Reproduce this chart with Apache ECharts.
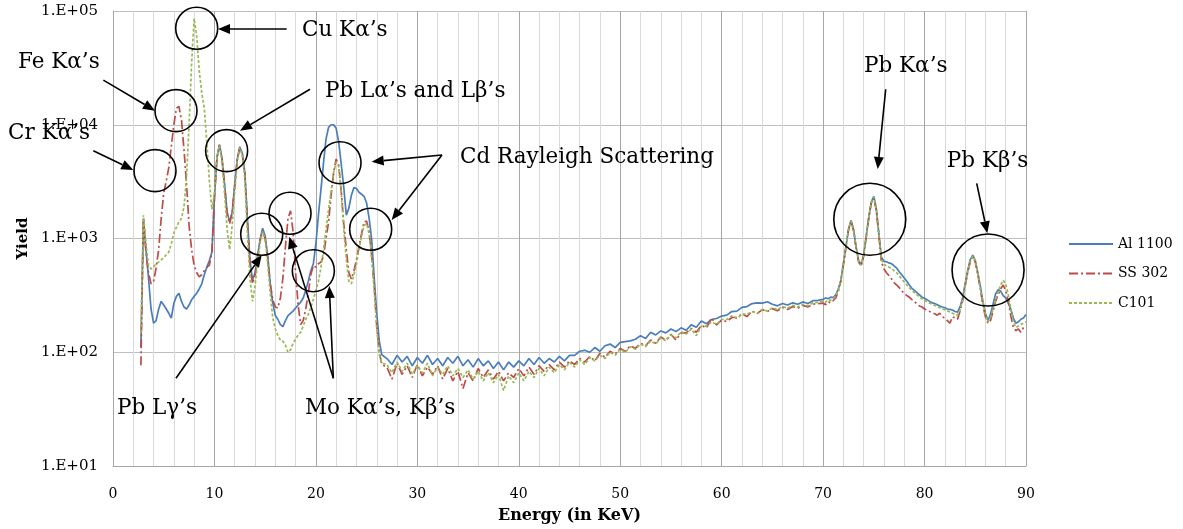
<!DOCTYPE html>
<html>
<head>
<meta charset="utf-8">
<script src="https://cdn.jsdelivr.net/npm/echarts@6/dist/echarts.min.js"></script>
<style>
html,body{margin:0;padding:0;background:#fff;}
#chart{width:1183px;height:529px;}
</style>
</head>
<body>
<div id="chart"></div>
<script>
// ---------------- DATA ----------------
const energy = [
  2.75,3,3.25,3.5,3.75,
  4,4.25,4.5,4.75, 5,5.25,5.5,5.75, 6,6.25,6.5,6.75, 7,7.25,7.5,7.75,
  8,8.25,8.5,8.75, 9,9.25,9.5,9.75, 10,10.25,10.5,10.75, 11,11.25,11.5,11.75,
  12,12.25,12.5,12.75, 13,13.25,13.5,13.75, 14,14.25,14.5,14.75, 15,15.25,15.5,15.75,
  16,16.25,16.5,16.75, 17,17.25,17.5,17.75, 18,18.25,18.5,18.75, 19,19.25,19.5,19.75,
  20,20.25,20.5,20.75, 21,21.25,21.5,21.75, 22,22.25,22.5,22.75, 23,23.25,23.5,23.75,
  24,24.25,24.5,24.75, 25,25.25,25.5,25.75, 26,26.25,26.5,
  27,27.5,28,28.5,29,29.5,30,30.5,31,31.5,
  32,32.5,33,33.5,34,34.5,35,35.5,36,36.5,
  37,37.5,38,38.5,39,39.5,40,40.5,41,41.5,
  42,42.5,43,43.5,44,44.5,45,45.5,46,46.5,
  47,47.5,48,48.5,49,49.5,50,50.5,51,51.5,
  52,52.5,53,53.5,54,54.5,55,55.5,56,56.5,
  57,57.5,58,58.5,59,59.5,60,60.5,61,61.5,
  62,62.5,63,63.5,64,64.5,65,65.5,66,66.5,
  67,67.5,68,68.5,69,69.5,
  70,70.25,70.5,70.75, 71,71.25,71.5,71.75, 72,72.25,72.5,72.75, 73,73.25,73.5,73.75,
  74,74.25,74.5,74.75, 75,75.25,75.5,75.75, 76,76.25,76.5,76.75, 77,77.25,77.5,77.75,
  78,78.25,78.5,78.75, 79,79.25,79.5,79.75, 80,80.25,80.5,80.75, 81,81.25,81.5,81.75,
  82,82.25,82.5,82.75, 83,83.25,83.5,83.75, 84,84.25,84.5,84.75, 85,85.25,85.5,85.75,
  86,86.25,86.5,86.75, 87,87.25,87.5,87.75, 88,88.25,88.5,88.75, 89,89.25,89.5,89.75,
  90
];

const al1100 = [
  110,1500,800,450,240,
  180,190,240,280, 260,240,220,200, 270,310,330,280, 250,240,260,290,
  310,330,360,400, 480,560,640,760, 2300,5200,6700,5000, 3000,1700,1400,1700,
  3000,5000,6400,5600, 3800,1500,650,430, 500,700,980,1230, 1050,700,400,270,
  210,195,175,168, 190,210,220,230, 245,260,275,300, 350,420,520,600,
  900,1600,2700,4600, 7500,9500,10000,10000, 9300,7000,4500,2800, 1600,1850,2400,2800,
  2750,2550,2450,2350, 2050,1500,980,450, 220,125,95,
  88,78,94,82,92,76,90,80,94,78,
  88,76,90,80,92,76,86,74,88,76,
  84,72,82,70,82,74,84,76,88,78,
  90,80,88,82,92,84,94,94,102,104,
  100,110,102,114,118,110,122,124,126,130,
  140,132,150,142,154,148,160,152,164,156,
  174,166,188,178,194,198,208,212,228,230,
  248,252,268,272,270,278,264,256,268,260,
  272,264,277,268,284,286,
  292,300,296,305, 302,320,360,430, 600,850,1200,1450, 1200,850,640,590,
  720,1050,1550,2100, 2350,1800,1100,680, 630,625,610,600, 575,550,510,480,
  450,420,390,365, 350,335,320,305, 298,290,280,272, 268,262,255,250,
  246,240,238,235, 228,225,250,300, 400,520,650,715, 640,500,380,280,
  220,190,215,265, 325,355,345,315, 300,270,240,200, 180,185,195,200,
  215
];

const ss302 = [
  77,1500,750,500,400,
  420,550,800,1500, 2500,3200,4200,6500, 10000,14000,14500,11000, 6000,3000,1300,800,
  580,500,460,480, 520,560,580,760, 2300,5100,6600,5000, 2900,1650,1350,1700,
  2900,4900,6300,5500, 3700,1400,600,400, 470,680,950,1180, 1000,680,400,290,
  250,245,300,450, 850,1500,1750,1150, 500,260,175,190, 240,330,480,580,
  560,600,620,700, 1000,1400,2400,3800, 5000,4400,2600,1350, 800,500,440,520,
  650,850,1100,1400, 1420,1150,700,380, 170,100,78,
  74,58,80,64,76,60,78,62,74,64,
  76,58,72,56,68,48,66,56,72,60,
  70,58,68,56,66,60,72,62,74,64,
  76,68,78,70,82,74,84,78,88,82,
  92,84,98,90,102,96,108,102,114,108,
  120,114,128,120,136,128,144,128,148,148,
  162,150,172,163,200,174,192,186,202,203,
  217,206,230,218,237,228,242,232,248,238,
  252,244,258,250,264,268,
  270,262,278,272, 285,300,345,420, 590,830,1180,1420, 1180,820,620,570,
  700,1020,1500,2050, 2300,1750,1050,620, 540,500,470,440, 410,390,370,345,
  330,315,305,290, 280,265,255,250, 240,235,228,222, 218,212,220,205,
  200,190,180,205, 200,195,230,280, 380,500,620,690, 620,480,360,260,
  205,180,190,230, 280,320,360,390, 350,280,210,165, 155,160,150,165,
  160
];

const c101 = [
  150,1600,900,580,540,
  560,600,620,650, 680,720,760,900, 1120,1250,1400,1500, 1900,3500,10000,35000,
  86000,60000,30000,19000, 14000,7000,3200,1800, 2500,5200,6600,4800, 2500,1200,800,1300,
  2600,4800,6300,5400, 3300,1100,450,280, 380,620,920,1150, 980,600,330,200,
  160,140,128,125, 115,100,105,120, 130,142,150,170, 195,215,250,290,
  350,420,560,800, 1200,1800,2600,3800, 4700,4300,2500,1200, 650,420,400,480,
  600,800,1050,1300, 1350,1100,680,350, 160,95,80,
  78,66,82,68,80,64,76,66,80,62,
  74,64,76,62,72,60,70,58,68,56,
  66,54,64,46,62,54,66,56,68,60,
  72,62,74,66,78,70,82,74,86,78,
  90,84,94,88,100,94,106,100,112,106,
  118,112,126,118,134,126,142,134,152,144,
  160,140,170,170,184,176,194,194,208,198,
  216,216,228,220,238,230,246,238,252,244,
  258,250,264,256,272,274,
  282,276,290,286, 298,312,355,430, 600,840,1200,1430, 1200,840,630,580,
  710,1040,1520,2080, 2320,1780,1080,650, 590,575,560,545, 520,500,470,440,
  415,390,370,350, 335,320,305,295, 285,278,270,264, 258,252,246,240,
  236,232,226,220, 215,212,235,290, 390,510,630,700, 640,500,370,275,
  215,185,200,240, 290,340,390,430, 400,320,240,185, 165,170,175,180,
  185
];

const seriesNames = ['Al 1100', 'SS 302', 'C101'];
const yTicks = [10, 100, 1000, 10000, 100000];

// ---------------- ANNOTATIONS (in data coordinates) ----------------
const annLabels = [
  ['Cu K\u03b1\u2019s', 18.63, 68100],
  ['Fe K\u03b1\u2019s', -9.37, 35600],
  ['Pb L\u03b1\u2019s and L\u03b2\u2019s', 20.9, 19800],
  ['Cr K\u03b1\u2019s', -10.35, 8450],
  ['Cd Rayleigh Scattering', 34.2, 5110],
  ['Pb K\u03b1\u2019s', 74.03, 32800],
  ['Pb K\u03b2\u2019s', 82.2, 4800],
  ['Pb L\u03b3\u2019s', 0.39, 32.4],
  ['Mo K\u03b1\u2019s, K\u03b2\u2019s', 18.93, 32.4]
];
const annCircles = [
  [8.25, 70500, 'S'], [6.21, 13300, 'S'], [4.14, 3950, 'S'], [11.2, 5920, 'S'],
  [14.66, 1090, 'S'], [17.45, 1665, 'S'], [19.75, 521, 'S'], [22.38, 4640, 'S'],
  [25.4, 1205, 'S'], [74.6, 1476, 'L'], [86.26, 528, 'L']
];
const annArrows = [
  [17.12, 69500, 10.35, 69500],
  [-0.95, 24700, 4.14, 13300],
  [-1.94, 5900, 2.0, 4000],
  [19.42, 20500, 12.52, 8870],
  [32.43, 5420, 25.5, 4730],
  [32.43, 5420, 27.47, 1455],
  [6.21, 59, 14.66, 716],
  [21.72, 59, 17.38, 1038],
  [21.72, 59, 21.32, 382],
  [76.17, 20500, 75.38, 4080],
  [85.14, 3055, 86.19, 1112]
];

// ---------------- CHART ----------------
const FONT = 'DejaVu Serif';
const chart = echarts.init(document.getElementById('chart'), null, {renderer: 'canvas'});
const colors = ['#4a7ebb', '#be4b48', '#98b954'];
const dashes = ['solid', [9, 3, 2, 3], [3, 2]];
const ys = [al1100, ss302, c101];

chart.setOption({
  animation: false,
  backgroundColor: '#fff',
  grid: {left: 113, right: 157, top: 11, bottom: 63, containLabel: false},
  legend: {
    orient: 'vertical', left: 1063, top: 232,
    itemWidth: 44, itemHeight: 14, itemGap: 15.5,
    itemStyle: {color: 'rgba(0,0,0,0)', borderWidth: 0},
    textStyle: {fontFamily: FONT, fontSize: 14, color: '#000'},
    data: seriesNames
  },
  xAxis: {
    type: 'value', min: 0, max: 90, interval: 10,
    name: 'Energy (in KeV)', nameLocation: 'middle', nameGap: 42,
    nameTextStyle: {fontFamily: FONT, fontSize: 16, fontWeight: 'bold', color: '#000'},
    axisLine: {show: true, lineStyle: {color: '#a6a6a6', width: 1}},
    axisTick: {show: false},
    axisLabel: {fontFamily: FONT, fontSize: 14, color: '#000', margin: 21},
    splitLine: {show: true, lineStyle: {color: '#a6a6a6', width: 1}},
    minorTick: {show: false, splitNumber: 5},
    minorSplitLine: {show: true, lineStyle: {color: '#d9d9d9', width: 1}}
  },
  yAxis: {
    type: 'log', logBase: 10, min: yTicks[0], max: yTicks[yTicks.length - 1],
    name: 'Yield', nameLocation: 'middle', nameGap: 78,
    nameTextStyle: {fontFamily: FONT, fontSize: 15, fontWeight: 'bold', color: '#000'},
    axisLine: {show: true, lineStyle: {color: '#a6a6a6', width: 1}},
    axisTick: {show: false},
    axisLabel: {
      fontFamily: FONT, fontSize: 15, color: '#000', margin: 15,
      formatter: v => '1.E+' + String(Math.round(Math.log10(v))).padStart(2, '0')
    },
    splitLine: {show: true, lineStyle: {color: '#bfbfbf', width: 1}}
  },
  series: seriesNames.map((name, k) => ({
    name: name, type: 'line', symbol: 'none', showSymbol: false,
    smooth: false, sampling: null, z: 3 + k,
    lineStyle: {color: colors[k], width: 1.7, type: dashes[k]},
    itemStyle: {color: colors[k]},
    data: energy.map((e, i) => [e, ys[k][i]])
  }))
});

// annotations positioned through the axes
function px(x, y) { return chart.convertToPixel({gridIndex: 0}, [x, y]); }
const g = [];
annCircles.forEach(c => {
  const p = px(c[0], c[1]);
  g.push({type: 'circle', shape: {cx: p[0], cy: p[1], r: c[2] === 'L' ? 36 : 21},
    style: {fill: 'none', stroke: '#000', lineWidth: 1.6}, z: 100});
});
annArrows.forEach(a => {
  const p1 = px(a[0], a[1]), p2 = px(a[2], a[3]);
  const dx = p2[0] - p1[0], dy = p2[1] - p1[1], L = Math.hypot(dx, dy);
  const ux = dx / L, uy = dy / L, hl = 12, hw = 5;
  const bx = p2[0] - ux * hl, by = p2[1] - uy * hl;
  g.push({type: 'line', shape: {x1: p1[0], y1: p1[1], x2: bx, y2: by},
    style: {stroke: '#000', lineWidth: 1.6}, z: 100});
  g.push({type: 'polygon', shape: {points: [[p2[0], p2[1]],
      [bx - uy * hw, by + ux * hw], [bx + uy * hw, by - ux * hw]]},
    style: {fill: '#000'}, z: 100});
});
annLabels.forEach(t => {
  const p = px(t[1], t[2]);
  g.push({type: 'text', x: p[0], y: p[1], z: 101,
    style: {text: t[0], fontFamily: FONT, fontSize: 21.5, fill: '#000',
      textAlign: 'left', textVerticalAlign: 'middle'}});
});
chart.setOption({graphic: g});
</script>
</body>
</html>
